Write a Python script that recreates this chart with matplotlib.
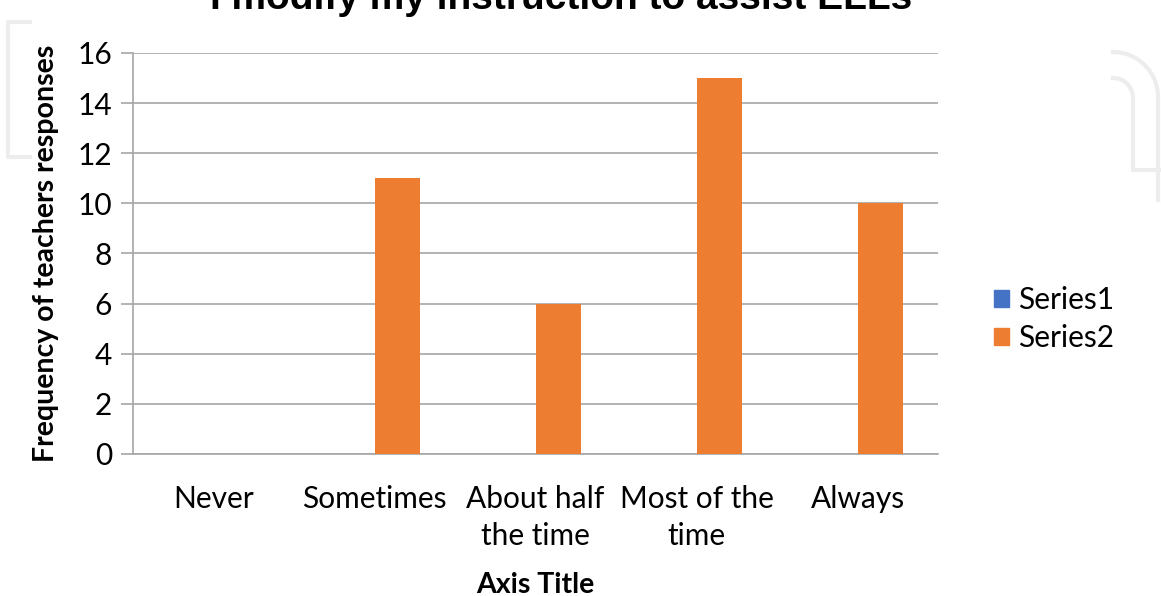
import matplotlib.pyplot as plt
import numpy as np
from matplotlib.patches import Patch
from matplotlib.lines import Line2D

categories = ['Never', 'Sometimes', 'About half\nthe time', 'Most of the\ntime', 'Always']
series1 = [0, 0, 0, 0, 0]
series2 = [0, 11, 6, 15, 10]
series_names = ['Series1', 'Series2']
colors = ['#4472C4', '#ED7D31']

plt.rcParams['font.family'] = ['Lato', 'DejaVu Sans']

fig = plt.figure(figsize=(11.61, 5.96), dpi=100)
ax = fig.add_axes([0.1146, 0.2383, 0.6934, 0.6728])

x = np.arange(len(categories))
w = 0.28
ax.bar(x - w / 2, series1, w, color=colors[0], zorder=3)
ax.bar(x + w / 2, series2, w, color=colors[1], zorder=3)

ax.set_xlim(-0.5, len(categories) - 0.5)
ax.set_ylim(0, 16)
ax.set_yticks(np.arange(0, 17, 2))
ax.yaxis.grid(True, color='#a6a6a6', linewidth=1.2, zorder=0)
ax.set_xticks(x)
ax.set_xticklabels(categories, fontsize=21.5, linespacing=1.4)
ax.tick_params(axis='x', length=0, pad=22)
ax.tick_params(axis='y', length=9, color='#a6a6a6', width=1.2, labelsize=21.5, pad=6)

for s in ['top', 'right']:
    ax.spines[s].set_visible(False)
for s in ['left', 'bottom']:
    ax.spines[s].set_color('#a6a6a6')
    ax.spines[s].set_linewidth(1.2)

ax.set_ylabel('Frequency of teachers responses', fontsize=20.5, fontweight='bold', labelpad=13)
ax.set_xlabel('Axis Title', fontsize=20.5, fontweight='bold', labelpad=16)

fig.text(0.483, 1 - 9 / 596, 'I modify my instruction to assist ELLs', ha='center', va='baseline',
         fontsize=28, fontweight='bold', family='Liberation Sans')

handles = [Patch(color=c) for c in colors]
fig.legend(handles, series_names, loc='center left', bbox_to_anchor=(0.833, 0.465),
           frameon=False, fontsize=21.5, handlelength=0.5, handleheight=0.5,
           handletextpad=0.3, labelspacing=0.35)

# faint bracket shapes in the background
wm = dict(color='#ededed', linewidth=3, zorder=0)
fig.add_artist(Line2D(np.array([30, 8, 8, 30]) / 1161, 1 - np.array([22, 22, 157, 157]) / 596, **wm))
t = np.linspace(0, np.pi / 2, 20)
ox = 1113 + 45 * np.sin(t)
oy = 52 + 45 * (1 - np.cos(t))
fig.add_artist(Line2D(np.r_[ox, 1158] / 1161, 1 - np.r_[oy, 200] / 596, **wm))
ix = 1113 + 20 * np.sin(t)
iy = 78 + 20 * (1 - np.cos(t))
fig.add_artist(Line2D(np.r_[ix, 1133, 1161] / 1161, 1 - np.r_[iy, 170, 170] / 596, **wm))

fig.savefig('out.png', dpi=100)
